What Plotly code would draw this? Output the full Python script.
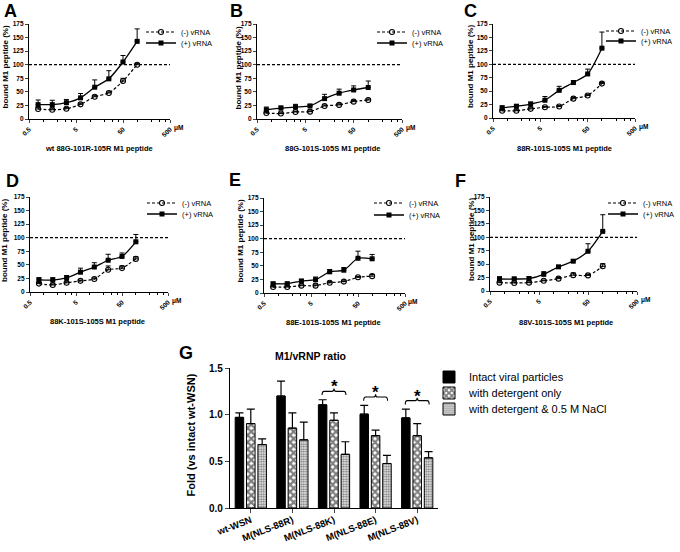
import plotly.graph_objects as go
import math

W, H = 680, 552
FONT = "Liberation Sans, Arial, sans-serif"

# ---------------- data: panels A-F (peptide titration) ----------------
conc_uM = [0.78125, 1.5625, 3.125, 6.25, 12.5, 25, 50, 100]
x_tick_vals = [0.5, 5, 50, 500]
x_tick_text = ["0.5", "5", "50", "500"]
x_minor_vals = [1, 2, 3, 4, 10, 20, 30, 40, 100, 200, 300, 400]
y_tick_vals = [0, 25, 50, 75, 100, 125, 150, 175]
reference_level = 100

panel_letters = ["A", "B", "C", "D", "E", "F"]
peptide_labels = [
    "wt 88G-101R-105R M1 peptide",
    "88G-101S-105S M1 peptide",
    "88R-101S-105S M1 peptide",
    "88K-101S-105S M1 peptide",
    "88E-101S-105S M1 peptide",
    "88V-101S-105S M1 peptide",
]

neg_A = [18.5, 17, 19, 27, 41, 48, 70, 100]
neg_A_err = [3, 3, 2, 2, 2, 2, 5, 2]
pos_A = [26.5, 26.5, 30, 39, 58.5, 74, 105, 143]
pos_A_err = [8.5, 8, 6, 8, 13.5, 15, 12, 23]

neg_B = [11, 10, 13, 13.5, 24, 26, 32, 35]
neg_B_err = [1.5, 1.5, 1.5, 1.5, 2, 2, 2, 2]
pos_B = [17, 20, 22, 24, 37.5, 47.5, 53.5, 58]
pos_B_err = [5, 4, 5, 3, 8, 7.5, 7.5, 12]

neg_C = [13.5, 13.5, 17, 20, 21.5, 36, 42, 64]
neg_C_err = [2, 2, 2, 1.5, 1.5, 2, 2, 2]
pos_C = [19, 22, 26, 33, 51.5, 66, 82, 130]
pos_C_err = [3.5, 3, 3.6, 7, 7.5, 3.5, 9, 30]

neg_D = [15.5, 13, 17, 20.5, 24, 41, 44, 61]
neg_D_err = [2, 2, 2, 1.5, 2, 7, 4, 4]
pos_D = [22.5, 22, 26, 36.5, 46, 58.5, 65.5, 92.5]
pos_D_err = [3.7, 4.4, 4.3, 7.4, 8, 11, 6.4, 13.5]

neg_E = [11, 11, 13.5, 13.5, 19, 21, 29, 31]
neg_E_err = [1.5, 1.5, 1.5, 1.5, 2, 1.5, 1.5, 3]
pos_E = [17, 17, 22, 24.5, 39, 42, 64, 63]
pos_E_err = [3, 3, 3.3, 5, 4.3, 5, 13, 8]

neg_F = [15.5, 15, 15.5, 19, 23, 29.5, 29, 46]
neg_F_err = [1.5, 1.5, 1.5, 1.5, 2, 4, 1.5, 5]
pos_F = [22.3, 22.3, 23, 31, 45, 55.5, 74, 111]
pos_F_err = [4.3, 3.7, 3.7, 5, 2, 3, 14, 31]

neg_series = [neg_A, neg_B, neg_C, neg_D, neg_E, neg_F]
neg_errors = [neg_A_err, neg_B_err, neg_C_err, neg_D_err, neg_E_err, neg_F_err]
pos_series = [pos_A, pos_B, pos_C, pos_D, pos_E, pos_F]
pos_errors = [pos_A_err, pos_B_err, pos_C_err, pos_D_err, pos_E_err, pos_F_err]

# ---------------- data: panel G (M1/vRNP ratio) ----------------
g_groups = ["wt-WSN", "M(NLS-88R)", "M(NLS-88K)", "M(NLS-88E)", "M(NLS-88V)"]
g_series_names = ["Intact viral particles", "with detergent only",
                  "with detergent & 0.5 M NaCl"]
g_intact = [0.97, 1.20, 1.105, 1.005, 0.965]
g_intact_err = [0.05, 0.16, 0.055, 0.095, 0.095]
g_deterg = [0.905, 0.855, 0.94, 0.775, 0.775]
g_deterg_err = [0.155, 0.165, 0.08, 0.06, 0.13]
g_nacl = [0.68, 0.73, 0.575, 0.477, 0.538]
g_nacl_err = [0.06, 0.19, 0.135, 0.086, 0.065]
g_significant = [2, 3, 4]
g_y_ticks = [0, 0.5, 1.0, 1.5]
g_y_text = ["0.0", "0.5", "1.0", "1.5"]

# ---------------- layout geometry (pixels) ----------------
boxes = [(29, 170, 24, 119), (257, 402, 24, 119), (493, 635, 24, 118),
         (30, 168, 197, 292), (264, 405, 198, 293), (490, 637, 197, 291)]
g_box = (230, 438, 368, 508)
letter_pos = [(10, 11), (236, 11), (470, 11), (12, 181), (235, 180), (460, 181)]
ytitle_x = [5, 238, 471, 4.5, 240, 472]
xtitle_pos = [(99, 148), (332, 148), (564, 148), (97.5, 321), (333, 322), (566, 322)]
legend_pos = [(181, 32, 43), (412, 32, 43), (641, 31, 41),
              (182, 203, 214), (409, 203, 215), (643, 203, 214)]


def px(x):
    return x / W


def py(y):
    return 1 - y / H


fig = go.Figure()
layout = dict(
    width=W, height=H,
    margin=dict(l=0, r=0, t=0, b=0, autoexpand=False),
    paper_bgcolor="white", plot_bgcolor="white",
    font=dict(family=FONT, color="black"),
    showlegend=True,
    barmode="group", bargap=0.18, bargroupgap=0.25,
)
annotations = []
shapes = []

for i in range(6):
    suffix = "" if i == 0 else str(i + 1)
    xa, ya = "x" + suffix, "y" + suffix
    lg_neg = "legend" if i == 0 else "legend%d" % (2 * i + 1)
    lg_pos = "legend%d" % (2 * i + 2)
    fig.add_trace(go.Scatter(
        x=conc_uM, y=neg_series[i], name="(-) vRNA", showlegend=True,
        mode="lines+markers", xaxis=xa, yaxis=ya, legend=lg_neg,
        line=dict(color="black", width=1.2, dash="3px,2px", shape="spline", smoothing=0.7),
        marker=dict(symbol="circle-open", size=5, color="black", line=dict(width=1.1, color="black")),
        error_y=dict(type="data", array=neg_errors[i], arrayminus=[0] * len(conc_uM),
                     symmetric=False, color="black", thickness=1, width=2.5),
    ))
    fig.add_trace(go.Scatter(
        x=conc_uM, y=pos_series[i], name="(+) vRNA", showlegend=True,
        mode="lines+markers", xaxis=xa, yaxis=ya, legend=lg_pos,
        line=dict(color="black", width=1.3, shape="spline", smoothing=0.7),
        marker=dict(symbol="square", size=5, color="black"),
        error_y=dict(type="data", array=pos_errors[i], arrayminus=[0] * len(conc_uM),
                     symmetric=False, color="black", thickness=1, width=2.5),
    ))
    l, r, t, b = boxes[i]
    layout["xaxis" + suffix] = dict(
        domain=[px(l), px(r)], anchor=ya, type="log",
        range=[math.log10(0.5), math.log10(500)],
        tickmode="array", tickvals=x_tick_vals, ticktext=x_tick_text,
        tickangle=-45, ticks="outside", ticklen=3, tickwidth=1.1,
        tickfont=dict(size=6.5, family=FONT, weight="bold", color="black"),
        showline=True, linecolor="black", linewidth=1.2, showgrid=False, zeroline=False,
        minor=dict(tickmode="array", tickvals=x_minor_vals, ticks="outside",
                   ticklen=2, tickwidth=1, tickcolor="black", showgrid=False),
    )
    layout["yaxis" + suffix] = dict(
        domain=[py(b), py(t)], anchor=xa, range=[0, 175],
        tickmode="array", tickvals=y_tick_vals,
        ticks="outside", ticklen=3, tickwidth=1.1,
        tickfont=dict(size=6.5, family=FONT, weight="bold", color="black"),
        showline=True, linecolor="black", linewidth=1.2, showgrid=False, zeroline=False,
    )
    shapes.append(dict(type="line", xref=xa + " domain", yref=ya, x0=0, x1=1,
                       y0=reference_level, y1=reference_level,
                       line=dict(color="black", width=1.3, dash="3px,2px")))
    # legends
    tx, r1, r2 = legend_pos[i]
    for key, ry in ((lg_neg, r1), (lg_pos, r2)):
        layout[key] = dict(x=px(tx - 40), xanchor="left", y=py(ry), yanchor="middle",
                           bgcolor="rgba(0,0,0,0)", borderwidth=0, visible=True,
                           font=dict(size=7.5, family=FONT, color="black"))
    # texts
    lx, lyy = letter_pos[i]
    annotations.append(dict(text="<b>%s</b>" % panel_letters[i], x=px(lx), y=py(lyy),
                            xref="paper", yref="paper", showarrow=False,
                            xanchor="center", yanchor="middle",
                            font=dict(size=18, family=FONT, color="black")))
    annotations.append(dict(text="<b>bound M1 peptide (%)</b>", x=px(ytitle_x[i]),
                            y=py((t + b) / 2 - 4), xref="paper", yref="paper",
                            showarrow=False, textangle=-90, xanchor="center", yanchor="middle",
                            font=dict(size=8, family=FONT, color="black")))
    xtx, xty = xtitle_pos[i]
    annotations.append(dict(text="<b>%s</b>" % peptide_labels[i], x=px(xtx), y=py(xty),
                            xref="paper", yref="paper", showarrow=False,
                            xanchor="center", yanchor="middle",
                            font=dict(size=7.5, family=FONT, color="black")))
    annotations.append(dict(text="<b>μM</b>", x=px(r + 8), y=py(b + 9),
                            xref="paper", yref="paper", showarrow=False,
                            xanchor="center", yanchor="middle",
                            font=dict(size=6.5, family=FONT, color="black")))

# ---------------- panel G ----------------
g_x = list(range(len(g_groups)))
bar_specs = [
    (g_intact, g_intact_err, dict(color="black", line=dict(color="black", width=1))),
    (g_deterg, g_deterg_err, dict(color="white", line=dict(color="black", width=1),
                                  pattern=dict(shape="x", fgcolor="black", bgcolor="white",
                                               size=5, solidity=0.7))),
    (g_nacl, g_nacl_err, dict(color="white", line=dict(color="black", width=1),
                              pattern=dict(shape=".", fgcolor="black", bgcolor="white",
                                           size=2.5, solidity=0.6))),
]
for k, (vals, errs, mk) in enumerate(bar_specs):
    fig.add_trace(go.Bar(
        x=g_x, y=vals, name=g_series_names[k], xaxis="x7", yaxis="y7",
        legend="legend%d" % (13 + k), marker=mk, showlegend=True,
        error_y=dict(type="data", array=errs, arrayminus=[0] * len(vals), symmetric=False,
                     color="black", thickness=1.2, width=4),
    ))
gl, gr, gt, gb = g_box
layout["xaxis7"] = dict(
    domain=[px(gl), px(gr)], anchor="y7", range=[-0.5, len(g_groups) - 0.5],
    tickmode="array", tickvals=g_x, ticktext=g_groups, tickangle=-21,
    ticks="outside", ticklen=4, tickwidth=1.2, ticklabelstandoff=-2,
    tickfont=dict(size=9.5, family=FONT, weight="bold", color="black"),
    showline=True, linecolor="black", linewidth=1.3, showgrid=False, zeroline=False,
)
layout["yaxis7"] = dict(
    domain=[py(gb), py(gt)], anchor="x7", range=[0, 1.5],
    tickmode="array", tickvals=g_y_ticks, ticktext=g_y_text,
    ticks="outside", ticklen=4, tickwidth=1.2,
    tickfont=dict(size=10, family=FONT, weight="bold", color="black"),
    showline=True, linecolor="black", linewidth=1.3, showgrid=False, zeroline=False,
)
g_legend_rows = [377, 393, 409]
for k in range(3):
    layout["legend%d" % (13 + k)] = dict(
        x=px(469 - 40), xanchor="left", y=py(g_legend_rows[k]), yanchor="middle",
        bgcolor="rgba(0,0,0,0)", borderwidth=0, visible=True,
        font=dict(size=11, family=FONT, color="black"))

# significance braces
slot = (1 - layout["bargap"]) / 3
for g in g_significant:
    lvl = g_intact[g] + g_intact_err[g] + 0.09
    xl, xr = g - slot * 1.05, g + slot * 1.05
    d = 0.05
    path = ("M %f,%f Q %f,%f %f,%f L %f,%f Q %f,%f %f,%f Q %f,%f %f,%f L %f,%f Q %f,%f %f,%f" % (
        xl, lvl - 0.04, xl, lvl, xl + d, lvl,
        g - d, lvl, g, lvl, g, lvl + 0.03,
        g, lvl, g + d, lvl,
        xr - d, lvl, xr, lvl, xr, lvl - 0.04))
    shapes.append(dict(type="path", xref="x7", yref="y7", path=path,
                       line=dict(color="black", width=1.1)))
    annotations.append(dict(text="<b>*</b>", x=g, y=lvl + 0.05, xref="x7", yref="y7",
                            showarrow=False, xanchor="center", yanchor="middle",
                            font=dict(size=17, family=FONT, color="black")))

annotations.append(dict(text="<b>G</b>", x=px(186), y=py(353), xref="paper", yref="paper",
                        showarrow=False, xanchor="center", yanchor="middle",
                        font=dict(size=18, family=FONT, color="black")))
annotations.append(dict(text="<b>M1/vRNP ratio</b>", x=px(310), y=py(356), xref="paper",
                        yref="paper", showarrow=False, xanchor="center", yanchor="middle",
                        font=dict(size=10.5, family=FONT, color="black")))
annotations.append(dict(text="<b>Fold (vs intact wt-WSN)</b>", x=px(190), y=py(435.5),
                        xref="paper", yref="paper", showarrow=False, textangle=-90,
                        xanchor="center", yanchor="middle",
                        font=dict(size=11, family=FONT, color="black")))

layout["annotations"] = annotations
layout["shapes"] = shapes
fig.update_layout(**layout)
fig.write_html("out.html", config={"displayModeBar": False},
               post_script="document.body.style.margin='0';document.body.style.overflow='hidden';")
